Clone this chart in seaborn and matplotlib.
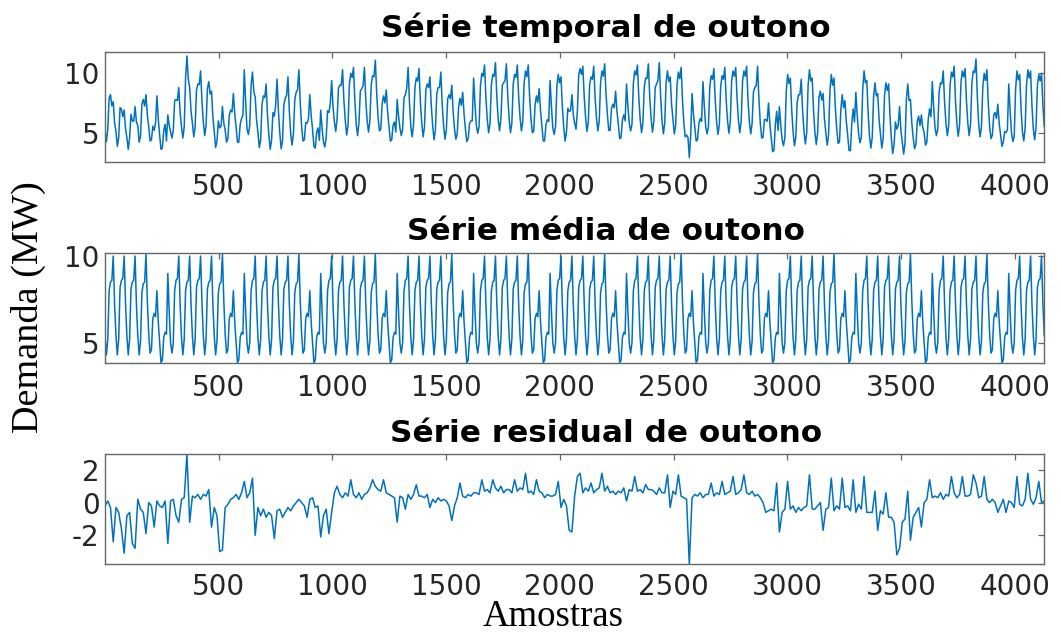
import numpy as np
import matplotlib
matplotlib.use("Agg")
import matplotlib.pyplot as plt
import seaborn as sns

# ---------------- data ----------------
titles = ["Série temporal de outono", "Série média de outono", "Série residual de outono"]
x_label = "Amostras"
y_label = "Demanda (MW)"
x_ticks = [500, 1000, 1500, 2000, 2500, 3000, 3500, 4000]
y_ticks_top = [5, 10]
y_ticks_mid = [5, 10]
y_ticks_bot = [-2, 0, 2]

# mean weekly profile: 8 readings per day (every 6 samples, 48 samples/day)
mean_tue = [5.3, 4.3, 5.2, 8.0, 8.5, 8.6, 10.0, 7.2]
mean_wed = [5.4, 4.3, 5.2, 8.2, 8.6, 8.7, 10.0, 7.3]
mean_thu = [5.4, 4.3, 5.2, 8.1, 8.5, 8.6, 10.0, 7.2]
mean_fri = [5.4, 4.3, 5.1, 7.9, 8.4, 8.5, 10.1, 7.4]
mean_sat = [5.5, 4.4, 4.6, 6.4, 6.7, 6.5, 8.0, 6.2]
mean_sun = [5.0, 3.85, 4.0, 5.3, 5.6, 5.5, 9.0, 6.8]
mean_mon = [5.0, 4.4, 5.0, 8.0, 8.6, 8.7, 10.0, 7.2]

# residual series: 4 readings per day (every 12 samples, hours 0/6/12/18)
residual = [
    -0.2, 0.1, -0.3, -2.4,   -0.3, -0.6, -1.6, -3.1,   -0.8, -0.6, -2.5, -2.8,
    0.2, -0.4, -0.6, -1.9,   0.0, -0.2, -1.5, 0.1,     -0.2, -0.3, 0.1, -2.5,
    0.1, 0.2, -0.8, -1.2,    0.2, 0.3, 2.96, -1.2,     0.4, 0.3, 0.5, 0.2,
    0.5, 0.4, 0.8, -1.5,     -0.3, -0.8, -3.0, -2.9,   -0.3, -0.1, 0.2, 0.3,
    0.5, 0.2, 0.6, 1.3,      0.3, 0.6, 1.5, -2.0,      -0.3, -0.8, -0.4, -0.9,
    -0.6, -0.8, -2.2, -0.5,  -0.4, -0.9, -0.6, -0.3,   -0.5, -0.2, 0.0, 0.2,
    0.0, -0.2, -0.9, 0.2,    0.3, -0.3, -0.2, -2.1,    -0.8, -0.4, -1.9, -0.6,
    0.6, 1.0, 0.5, 0.3,      0.6, 0.4, 1.4, 0.5,       0.3, 0.6, 0.2, 0.5,
    0.6, 0.9, 1.4, 1.0,      0.8, 0.7, 1.4, 0.6,       0.5, 0.4, 0.3, -1.2,
    0.4, 0.3, -0.4, 0.5,     0.2, 0.5, 1.1, 0.4,       0.4, 0.3, 0.5, -0.3,
    0.2, 0.0, 0.3, 0.1,      0.2, 0.1, -0.2, -1.1,     -0.2, 0.3, 1.2, 0.4,
    0.3, 0.5, 0.4, 0.6,      0.6, 0.5, 1.4, 0.7,       0.8, 0.6, 1.4, 0.9,
    0.7, 1.0, 0.6, 0.8,      0.8, 0.6, 1.4, 0.7,       0.9, 0.8, 1.8, 0.6,
    0.7, 0.5, 1.4, 0.7,      0.6, 0.3, 0.5, 0.4,       0.4, 0.5, 1.3, -0.3,
    0.2, -0.2, -1.7, -1.8,   0.4, 1.6, 1.8, 0.6,       0.9, 0.7, 1.2, 0.6,
    0.8, 0.9, 1.8, 0.7,      1.0, 0.6, 0.7, 0.5,       0.7, 0.6, 0.9, 0.1,
    0.8, 0.7, 1.6, 0.7,      0.8, 0.6, 1.1, 0.8,       0.8, 0.7, 0.5, 0.9,
    0.6, 0.6, 1.7, -0.3,     0.7, 0.5, 1.7, 0.4,       0.3, 0.2, -3.78, 0.3,
    0.5, 0.4, 0.6, 0.3,      0.5, 0.5, 1.2, 0.4,       0.6, 0.5, 1.3, 0.5,
    0.6, 0.7, 1.6, 0.5,      0.6, 0.8, 1.7, 0.6,       0.5, 0.7, 0.4, 0.5,
    0.3, 0.0, -0.6, -0.5,    -0.4, -0.5, 1.2, -1.8,    -0.6, -0.4, 1.3, -0.4,
    -0.2, -0.6, -0.3, -0.5,  -0.3, -0.2, 1.7, -0.4,    -0.4, -0.2, 0.0, -1.7,
    -0.4, -0.3, 1.5, -0.5,   -0.2, -0.4, 1.5, -0.3,    -0.2, -0.5, 1.4, -0.6,
    -0.1, -0.4, 1.6, -0.6,   -0.6, -0.6, 0.7, -1.7,    -0.5, -0.7, 0.6, -0.9,
    -0.9, -1.2, -3.2, -2.8,  -1.2, -1.0, 0.7, -2.3,    -0.9, -0.6, -0.3, -1.5,
    0.0, 0.2, 1.4, 0.3,      0.4, 0.3, 0.6, 0.2,       0.5, 0.4, 1.6, 0.6,
    0.3, 0.5, 1.6, 0.4,      0.4, 0.5, 1.7, 1.2,       0.3, 0.4, 1.6, 0.2,
    0.0, 0.2, 0.0, -0.6,     -0.2, 0.2, -0.6, 0.1,     0.0, -0.3, 1.6, -0.1,
    -0.2, 0.2, 1.8, 0.2,     -0.1, 0.3, 1.3, 0.0,      0.1,
]

x_limits = (1, 4128)
y_lim_top = (2.56, 11.82)
y_lim_mid = (3.85, 10.16)
y_lim_bot = (-3.78, 2.96)

# ---------------- build series ----------------
week_profile = (mean_tue + mean_wed + mean_thu + mean_fri +
                mean_sat + mean_sun + mean_mon)
step_fine = 6
step_res = 12
n_fine = 689
s_fine = 1 + step_fine * np.arange(n_fine)
mean_series = np.resize(np.array(week_profile, dtype=float), n_fine)
s_res = 1 + step_res * np.arange(len(residual))
res_arr = np.array(residual, dtype=float)
# temporal = mean + residual (decomposition shown by the chart)
temporal = mean_series + np.interp(s_fine, s_res, res_arr)

# ---------------- figure ----------------
sns.set_style("white")
plt.rcParams["font.family"] = ["DejaVu Sans"]
fig = plt.figure(figsize=(10.61, 6.35), dpi=100)

line_color = "#0072BD"
spine_color = "#666666"
tick_color = "#262626"

positions = [
    [0.099, 0.7454, 0.885, 0.1732],
    [0.099, 0.4288, 0.885, 0.1723],
    [0.099, 0.1113, 0.885, 0.1733],
]
series_x = [s_fine, s_fine, s_res]
series_y = [temporal, mean_series, res_arr]
ylims = [y_lim_top, y_lim_mid, y_lim_bot]
yticks = [y_ticks_top, y_ticks_mid, y_ticks_bot]
title_baselines = [37, 240, 441.5]
x_pads = [8, 8, 6]

for k in range(3):
    ax = fig.add_axes(positions[k])
    sns.lineplot(x=series_x[k], y=series_y[k], ax=ax, color=line_color,
                 linewidth=1.1, estimator=None)
    ax.set_xlim(*x_limits)
    ax.set_ylim(*ylims[k])
    ax.set_xticks(x_ticks)
    ax.set_yticks(yticks[k])
    ax.set_xticklabels([str(t) for t in x_ticks])
    ax.set_yticklabels([str(t) for t in yticks[k]])
    ax.tick_params(axis="both", direction="in", length=7, width=0.9,
                   colors=spine_color, labelcolor=tick_color, labelsize=20,
                   top=False, right=False)
    ax.tick_params(axis="x", pad=x_pads[k])
    ax.tick_params(axis="y", pad=4)
    sec_x = ax.secondary_xaxis("top")
    sec_x.set_xticks(x_ticks)
    sec_x.tick_params(direction="in", length=4, width=0.9, colors=spine_color,
                      labeltop=False)
    sec_x.spines["top"].set_visible(False)
    sec_y = ax.secondary_yaxis("right")
    sec_y.set_yticks(yticks[k])
    sec_y.tick_params(direction="in", length=4, width=0.9, colors=spine_color,
                      labelright=False)
    sec_y.spines["right"].set_visible(False)
    for sp in ax.spines.values():
        sp.set_visible(True)
        sp.set_color(spine_color)
        sp.set_linewidth(1.0)
    ax.set_xlabel("")
    ax.set_ylabel("")
    fig.text(0.571, 1 - title_baselines[k] / 635, titles[k], ha="center",
             va="baseline", fontsize=22.4, fontweight="bold", color="black")

fig.text(0.027, 0.516, y_label, rotation=90, ha="center", va="center",
         fontsize=27.5, family=["Liberation Serif", "DejaVu Serif"], color="black")
fig.text(0.521, 1 - 626 / 635, x_label, ha="center", va="baseline",
         fontsize=26.5, family=["Liberation Serif", "DejaVu Serif"], color="black")

fig.savefig("out.png", dpi=100)
